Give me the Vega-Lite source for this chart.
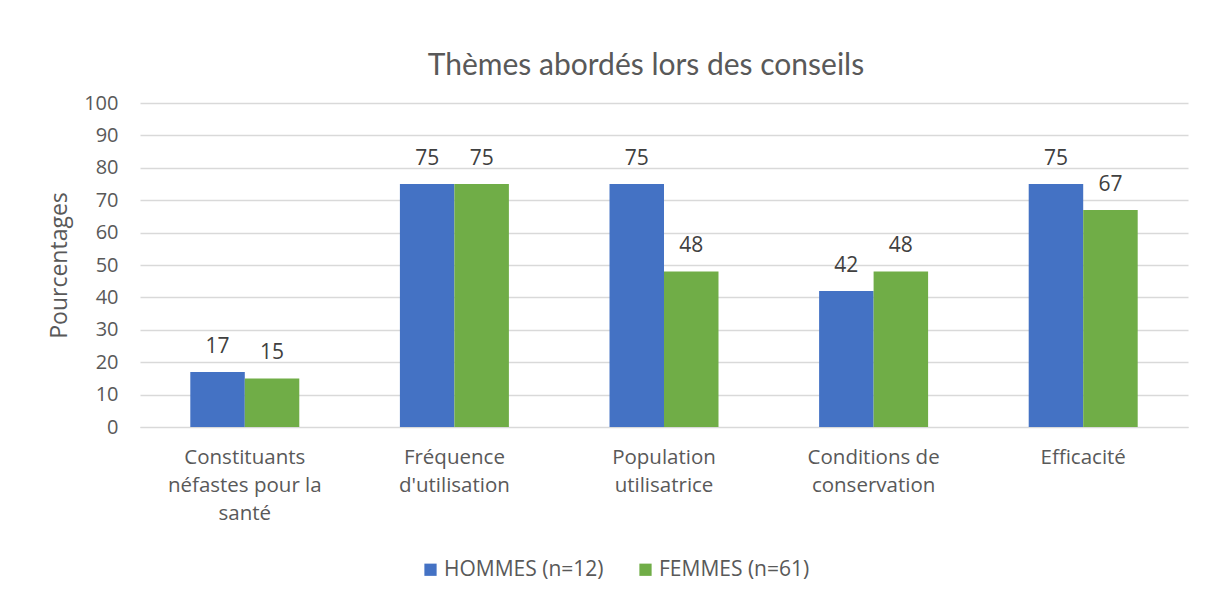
{
  "$schema": "https://vega.github.io/schema/vega-lite/v6.json",
  "width": 1048,
  "height": 324,
  "autosize": {"type": "none"},
  "padding": {"left": 140, "top": 103, "right": 24, "bottom": 173},
  "background": "white",
  "title": {
    "text": "Thèmes abordés lors des conseils",
    "font": "Lato",
    "fontSize": 30,
    "fontWeight": "normal",
    "color": "#595959",
    "anchor": "middle",
    "dx": -18,
    "offset": 12
  },
  "data": {
    "values": [
      {"theme": "Constituants néfastes pour la santé", "groupe": "HOMMES (n=12)", "pct": 17},
      {"theme": "Constituants néfastes pour la santé", "groupe": "FEMMES (n=61)", "pct": 15},
      {"theme": "Fréquence d'utilisation", "groupe": "HOMMES (n=12)", "pct": 75},
      {"theme": "Fréquence d'utilisation", "groupe": "FEMMES (n=61)", "pct": 75},
      {"theme": "Population utilisatrice", "groupe": "HOMMES (n=12)", "pct": 75},
      {"theme": "Population utilisatrice", "groupe": "FEMMES (n=61)", "pct": 48},
      {"theme": "Conditions de conservation", "groupe": "HOMMES (n=12)", "pct": 42},
      {"theme": "Conditions de conservation", "groupe": "FEMMES (n=61)", "pct": 48},
      {"theme": "Efficacité", "groupe": "HOMMES (n=12)", "pct": 75},
      {"theme": "Efficacité", "groupe": "FEMMES (n=61)", "pct": 67}
    ]
  },
  "encoding": {
    "x": {
      "field": "theme",
      "type": "nominal",
      "sort": null,
      "scale": {"paddingInner": 0.48, "paddingOuter": 0.24},
      "axis": {
        "title": null,
        "labelAngle": 0,
        "labelFont": "Open Sans",
        "labelFontSize": 20.5,
        "labelColor": "#595959",
        "labelPadding": 20,
        "labelLineHeight": 28,
        "labelBaseline": "top",
        "ticks": false,
        "domainColor": "#d9d9d9",
        "labelExpr": "datum.label == 'Constituants néfastes pour la santé' ? ['Constituants', 'néfastes pour la', 'santé'] : datum.label == \"Fréquence d'utilisation\" ? ['Fréquence', \"d'utilisation\"] : datum.label == 'Population utilisatrice' ? ['Population', 'utilisatrice'] : datum.label == 'Conditions de conservation' ? ['Conditions de', 'conservation'] : datum.label"
      }
    },
    "xOffset": {"field": "groupe", "type": "nominal", "sort": ["HOMMES (n=12)", "FEMMES (n=61)"]},
    "y": {
      "field": "pct",
      "type": "quantitative",
      "scale": {"domain": [0, 100], "nice": false},
      "axis": {
        "title": "Pourcentages",
        "titleFont": "Open Sans",
        "titleFontSize": 23,
        "titleFontWeight": "normal",
        "titleColor": "#595959",
        "titlePadding": 12,
        "values": [0, 10, 20, 30, 40, 50, 60, 70, 80, 90, 100],
        "labelFont": "Open Sans",
        "labelFontSize": 20,
        "labelColor": "#595959",
        "labelPadding": 22,
        "ticks": false,
        "domain": false,
        "gridColor": "#d9d9d9",
        "gridWidth": 1.3
      }
    }
  },
  "layer": [
    {
      "mark": {"type": "bar"},
      "encoding": {
        "color": {
          "field": "groupe",
          "type": "nominal",
          "sort": ["HOMMES (n=12)", "FEMMES (n=61)"],
          "scale": {"domain": ["HOMMES (n=12)", "FEMMES (n=61)"], "range": ["#4472C4", "#70AD47"]},
          "legend": {
            "title": null,
            "orient": "none",
            "legendX": 280,
            "legendY": 456,
            "direction": "horizontal",
            "symbolType": "square",
            "symbolSize": 150,
            "symbolStrokeWidth": 0,
            "symbolOpacity": 1,
            "labelFont": "Open Sans",
            "labelFontSize": 21,
            "labelColor": "#595959",
            "labelOffset": 3,
            "columnPadding": 31
          }
        }
      }
    },
    {
      "mark": {"type": "text", "dy": -25, "font": "Open Sans", "fontSize": 21, "color": "#404040"},
      "encoding": {"text": {"field": "pct", "type": "quantitative"}}
    }
  ],
  "config": {"view": {"stroke": null}}
}
